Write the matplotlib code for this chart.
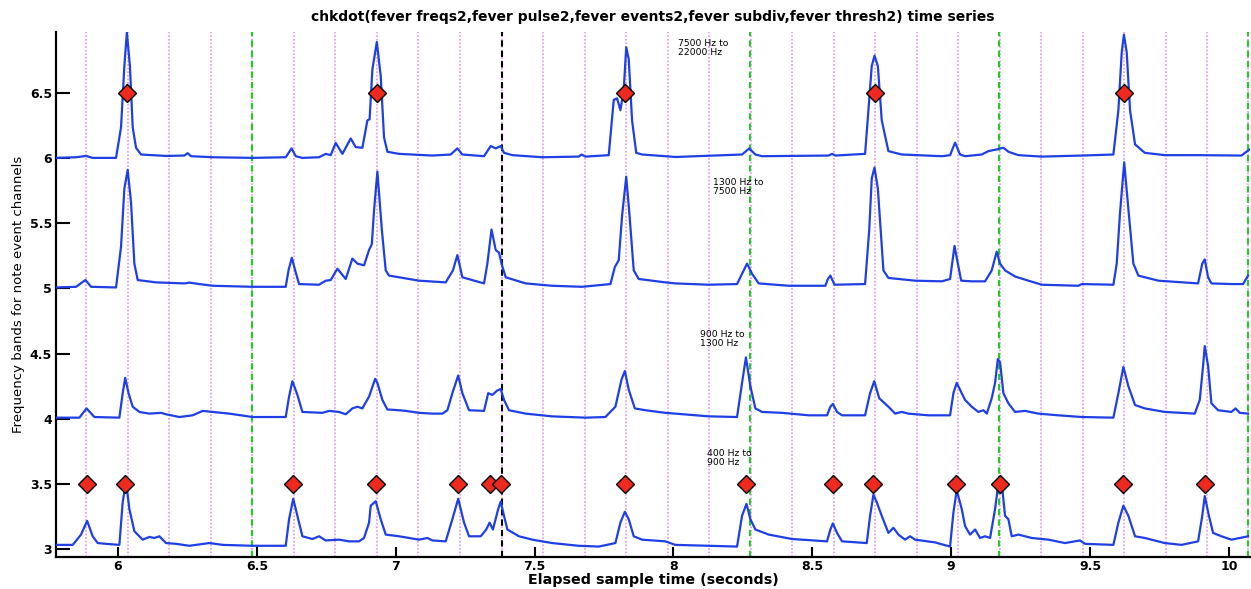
import matplotlib
matplotlib.use("Agg")
import matplotlib.pyplot as plt

# ---------------- data ----------------
title = "chkdot(fever freqs2,fever pulse2,fever events2,fever subdiv,fever thresh2) time series"
xlabel = "Elapsed sample time (seconds)"
ylabel = "Frequency bands for note event channels"

band_labels = ["7500 Hz to\n22000 Hz", "1300 Hz to\n7500 Hz", "900 Hz to\n1300 Hz", "400 Hz to\n900 Hz"]
band_label_t = [8.018, 8.143, 8.095, 8.120]
band_label_v = [6.919, 5.846, 4.681, 3.764]

x_ticks = [6, 6.5, 7, 7.5, 8, 8.5, 9, 9.5, 10]
x_ticklabels = ["6", "6.5", "7", "7.5", "8", "8.5", "9", "9.5", "10"]
y_ticks = [3, 3.5, 4, 4.5, 5, 5.5, 6, 6.5]
y_ticklabels = ["3", "3.5", "4", "4.5", "5", "5.5", "6", "6.5"]

beat_times = [5.885, 6.035, 6.184, 6.334, 6.484, 6.633, 6.783, 6.932, 7.082, 7.231,
              7.381, 7.530, 7.680, 7.829, 7.979, 8.128, 8.278, 8.427, 8.577, 8.726,
              8.876, 9.025, 9.175, 9.324, 9.474, 9.623, 9.773, 9.922, 10.069]
green_times = [6.484, 8.275, 9.173, 10.069]
black_times = [7.381]

top_event_t = [6.032, 6.932, 7.827, 8.724, 9.621]
top_event_v = 6.5
bot_event_t = [5.889, 6.026, 6.631, 6.928, 7.225, 7.338, 7.378, 7.825, 8.262,
               8.573, 8.720, 9.018, 9.176, 9.620, 9.913]
bot_event_v = 3.5

# channel 6: 7500-22000 Hz
ch6_t = [5.777, 5.849, 5.885, 5.909, 5.993, 6.011, 6.023, 6.032, 6.043, 6.053, 6.065, 6.083,
         6.173, 6.239, 6.251, 6.263, 6.341, 6.484, 6.604, 6.625, 6.640, 6.664, 6.724, 6.748,
         6.766, 6.784, 6.808, 6.838, 6.856, 6.880, 6.898, 6.906, 6.916, 6.932, 6.946, 6.958,
         6.970, 7.012, 7.132, 7.198, 7.222, 7.240, 7.318, 7.342, 7.360, 7.378, 7.390, 7.420,
         7.528, 7.659, 7.669, 7.683, 7.767, 7.785, 7.797, 7.809, 7.821, 7.830, 7.839, 7.851,
         7.866, 7.887, 7.971, 8.007, 8.247, 8.273, 8.295, 8.319, 8.559, 8.571, 8.583, 8.690,
         8.702, 8.714, 8.724, 8.736, 8.750, 8.774, 8.822, 8.966, 8.996, 9.014, 9.032, 9.050,
         9.110, 9.134, 9.164, 9.188, 9.206, 9.242, 9.326, 9.470, 9.584, 9.602, 9.614, 9.622,
         9.632, 9.644, 9.662, 9.697, 9.769, 9.889, 10.045, 10.063, 10.075]
ch6_v = [6.003, 6.008, 6.018, 6.003, 6.003, 6.238, 6.709, 6.966, 6.709, 6.238, 6.081, 6.029,
         6.018, 6.021, 6.039, 6.016, 6.008, 6.003, 6.008, 6.076, 6.016, 6.003, 6.008, 6.034,
         6.024, 6.118, 6.034, 6.152, 6.086, 6.081, 6.291, 6.300, 6.683, 6.893, 6.631, 6.160,
         6.050, 6.034, 6.021, 6.029, 6.076, 6.029, 6.016, 6.094, 6.076, 6.094, 6.042, 6.024,
         6.008, 6.013, 6.029, 6.013, 6.024, 6.448, 6.461, 6.369, 6.526, 6.853, 6.762, 6.291,
         6.042, 6.029, 6.016, 6.010, 6.029, 6.076, 6.029, 6.016, 6.021, 6.034, 6.021, 6.034,
         6.369, 6.709, 6.788, 6.709, 6.291, 6.055, 6.029, 6.016, 6.024, 6.120, 6.029, 6.016,
         6.029, 6.055, 6.068, 6.081, 6.050, 6.024, 6.013, 6.021, 6.029, 6.369, 6.814, 6.950,
         6.814, 6.369, 6.107, 6.042, 6.024, 6.024, 6.021, 6.050, 6.068]

# channel 5: 1300-7500 Hz
ch5_t = [5.777, 5.849, 5.883, 5.903, 5.993, 6.011, 6.023, 6.035, 6.047, 6.059, 6.071, 6.137,
         6.239, 6.257, 6.293, 6.341, 6.484, 6.604, 6.614, 6.626, 6.638, 6.652, 6.724, 6.748,
         6.766, 6.790, 6.820, 6.844, 6.862, 6.886, 6.904, 6.914, 6.922, 6.934, 6.950, 6.964,
         6.976, 7.012, 7.084, 7.180, 7.206, 7.222, 7.240, 7.318, 7.330, 7.345, 7.360, 7.372,
         7.381, 7.396, 7.468, 7.563, 7.671, 7.773, 7.789, 7.803, 7.815, 7.830, 7.842, 7.857,
         7.875, 7.971, 8.007, 8.127, 8.229, 8.247, 8.265, 8.283, 8.307, 8.415, 8.547, 8.556,
         8.565, 8.580, 8.690, 8.705, 8.714, 8.724, 8.736, 8.756, 8.774, 8.870, 8.966, 8.996,
         9.012, 9.024, 9.036, 9.074, 9.122, 9.146, 9.164, 9.176, 9.194, 9.230, 9.278, 9.326,
         9.458, 9.470, 9.584, 9.596, 9.608, 9.623, 9.638, 9.656, 9.674, 9.746, 9.889, 9.904,
         9.913, 9.925, 9.937, 10.009, 10.051, 10.069]
ch5_v = [5.008, 5.013, 5.065, 5.013, 5.008, 5.322, 5.767, 5.911, 5.662, 5.191, 5.065, 5.047,
         5.039, 5.045, 5.034, 5.021, 5.013, 5.013, 5.139, 5.236, 5.139, 5.034, 5.029, 5.060,
         5.065, 5.152, 5.073, 5.230, 5.191, 5.178, 5.296, 5.340, 5.600, 5.898, 5.453, 5.139,
         5.099, 5.086, 5.060, 5.047, 5.139, 5.257, 5.086, 5.039, 5.191, 5.453, 5.296, 5.275,
         5.191, 5.086, 5.039, 5.021, 5.013, 5.034, 5.165, 5.217, 5.558, 5.859, 5.558, 5.139,
         5.073, 5.047, 5.039, 5.029, 5.034, 5.113, 5.191, 5.113, 5.039, 5.021, 5.021, 5.073,
         5.099, 5.029, 5.034, 5.453, 5.846, 5.929, 5.767, 5.139, 5.081, 5.060, 5.055, 5.073,
         5.327, 5.191, 5.060, 5.055, 5.055, 5.139, 5.283, 5.191, 5.139, 5.092, 5.060, 5.029,
         5.021, 5.034, 5.029, 5.191, 5.584, 5.969, 5.610, 5.191, 5.099, 5.060, 5.039, 5.191,
         5.223, 5.086, 5.039, 5.034, 5.034, 5.099]

# channel 4: 900-1300 Hz
ch4_t = [5.777, 5.861, 5.887, 5.915, 6.005, 6.017, 6.026, 6.038, 6.053, 6.077, 6.113, 6.155,
         6.173, 6.221, 6.269, 6.305, 6.341, 6.401, 6.484, 6.604, 6.616, 6.628, 6.646, 6.664,
         6.736, 6.760, 6.796, 6.820, 6.844, 6.862, 6.880, 6.904, 6.926, 6.934, 6.952, 6.970,
         7.012, 7.036, 7.084, 7.132, 7.168, 7.186, 7.204, 7.225, 7.240, 7.264, 7.318, 7.333,
         7.348, 7.366, 7.378, 7.390, 7.408, 7.468, 7.563, 7.683, 7.755, 7.791, 7.813, 7.825,
         7.839, 7.861, 7.899, 7.971, 8.007, 8.127, 8.229, 8.247, 8.261, 8.277, 8.295, 8.319,
         8.391, 8.487, 8.553, 8.565, 8.574, 8.589, 8.607, 8.690, 8.708, 8.723, 8.741, 8.774,
         8.798, 8.822, 8.846, 8.918, 8.996, 9.008, 9.020, 9.038, 9.050, 9.074, 9.098, 9.116,
         9.128, 9.146, 9.158, 9.168, 9.176, 9.188, 9.206, 9.230, 9.266, 9.314, 9.386, 9.470,
         9.584, 9.602, 9.620, 9.638, 9.662, 9.697, 9.769, 9.877, 9.895, 9.907, 9.913, 9.925,
         9.937, 9.961, 10.009, 10.024, 10.039, 10.069]
ch4_v = [4.008, 4.008, 4.079, 4.013, 4.008, 4.196, 4.314, 4.196, 4.092, 4.052, 4.039, 4.045,
         4.034, 4.013, 4.026, 4.060, 4.052, 4.039, 4.013, 4.013, 4.170, 4.288, 4.183, 4.052,
         4.045, 4.060, 4.052, 4.034, 4.079, 4.092, 4.079, 4.170, 4.306, 4.275, 4.144, 4.071,
         4.065, 4.060, 4.045, 4.039, 4.039, 4.065, 4.196, 4.332, 4.196, 4.065, 4.060, 4.196,
         4.183, 4.217, 4.228, 4.144, 4.065, 4.039, 4.018, 4.008, 4.013, 4.092, 4.301, 4.366,
         4.223, 4.079, 4.065, 4.045, 4.039, 4.018, 4.013, 4.275, 4.471, 4.249, 4.079, 4.052,
         4.045, 4.026, 4.026, 4.092, 4.113, 4.052, 4.026, 4.026, 4.196, 4.288, 4.157, 4.092,
         4.039, 4.052, 4.039, 4.026, 4.026, 4.196, 4.275, 4.196, 4.144, 4.092, 4.052, 4.065,
         4.039, 4.157, 4.275, 4.458, 4.432, 4.196, 4.118, 4.052, 4.060, 4.039, 4.026, 4.013,
         4.008, 4.196, 4.398, 4.249, 4.105, 4.079, 4.052, 4.039, 4.144, 4.406, 4.558, 4.406,
         4.118, 4.065, 4.052, 4.079, 4.045, 4.039]

# channel 3: 400-900 Hz
ch3_t = [5.777, 5.837, 5.867, 5.889, 5.909, 5.927, 5.957, 6.005, 6.017, 6.029, 6.041, 6.059,
         6.089, 6.113, 6.131, 6.149, 6.173, 6.209, 6.257, 6.329, 6.377, 6.484, 6.604, 6.616,
         6.631, 6.646, 6.664, 6.700, 6.724, 6.748, 6.796, 6.832, 6.868, 6.886, 6.904, 6.910,
         6.928, 6.946, 6.964, 7.012, 7.048, 7.084, 7.114, 7.132, 7.180, 7.204, 7.225, 7.246,
         7.264, 7.306, 7.326, 7.338, 7.350, 7.369, 7.378, 7.390, 7.402, 7.444, 7.492, 7.563,
         7.659, 7.731, 7.791, 7.809, 7.825, 7.839, 7.857, 7.887, 7.971, 8.007, 8.127, 8.229,
         8.247, 8.263, 8.277, 8.295, 8.343, 8.427, 8.553, 8.565, 8.574, 8.589, 8.607, 8.696,
         8.708, 8.720, 8.732, 8.750, 8.774, 8.792, 8.810, 8.834, 8.852, 8.870, 8.942, 8.996,
         9.008, 9.020, 9.038, 9.050, 9.068, 9.086, 9.104, 9.122, 9.140, 9.158, 9.173, 9.184,
         9.194, 9.206, 9.218, 9.242, 9.290, 9.350, 9.410, 9.464, 9.482, 9.584, 9.602, 9.620,
         9.638, 9.662, 9.697, 9.769, 9.829, 9.889, 9.904, 9.913, 9.928, 9.943, 9.973, 10.009,
         10.069]
ch3_v = [3.031, 3.031, 3.110, 3.215, 3.097, 3.045, 3.039, 3.031, 3.359, 3.516, 3.306, 3.136,
         3.071, 3.092, 3.084, 3.097, 3.045, 3.039, 3.024, 3.045, 3.031, 3.024, 3.024, 3.228,
         3.385, 3.254, 3.097, 3.076, 3.097, 3.065, 3.071, 3.058, 3.058, 3.084, 3.202, 3.332,
         3.366, 3.228, 3.110, 3.097, 3.084, 3.071, 3.084, 3.065, 3.058, 3.228, 3.385, 3.202,
         3.097, 3.097, 3.149, 3.202, 3.149, 3.306, 3.364, 3.254, 3.149, 3.097, 3.071, 3.045,
         3.024, 3.018, 3.045, 3.202, 3.285, 3.228, 3.097, 3.071, 3.058, 3.031, 3.024, 3.018,
         3.254, 3.346, 3.228, 3.149, 3.110, 3.076, 3.058, 3.149, 3.196, 3.123, 3.058, 3.045,
         3.254, 3.416, 3.359, 3.254, 3.123, 3.162, 3.110, 3.071, 3.097, 3.071, 3.050, 3.018,
         3.280, 3.450, 3.306, 3.175, 3.110, 3.149, 3.084, 3.097, 3.084, 3.306, 3.555, 3.463,
         3.254, 3.228, 3.097, 3.110, 3.084, 3.071, 3.045, 3.065, 3.039, 3.031, 3.202, 3.332,
         3.254, 3.097, 3.084, 3.045, 3.031, 3.058, 3.254, 3.406, 3.254, 3.123, 3.097, 3.071,
         3.097]

# ---------------- plot ----------------
line_color = "#1f3fe6"
fig = plt.figure(figsize=(12.51, 5.89), dpi=100)
ax = fig.add_axes([0.0448, 0.0548, 0.9542, 0.8909])

for bt in beat_times:
    ax.axvline(bt, color="#e2a4ee", lw=1.3, ls=(0, (1, 1)), zorder=1)
for gt in green_times:
    ax.axvline(gt, color="#22cc22", lw=1.5, ls=(0, (3, 2)), zorder=2)
for kt in black_times:
    ax.axvline(kt, color="black", lw=1.5, ls=(0, (3, 2)), zorder=2)

for t, v in [(ch6_t, ch6_v), (ch5_t, ch5_v), (ch4_t, ch4_v), (ch3_t, ch3_v)]:
    ax.plot(t, v, color=line_color, lw=1.6, zorder=3, solid_joinstyle="round")

ax.plot(top_event_t, [top_event_v] * len(top_event_t), ls="none", marker="D",
        ms=9.2, mfc="#ee2a1e", mec="black", mew=1.0, zorder=4)
ax.plot(bot_event_t, [bot_event_v] * len(bot_event_t), ls="none", marker="D",
        ms=9.2, mfc="#ee2a1e", mec="black", mew=1.0, zorder=4)

for lab, lt, lv in zip(band_labels, band_label_t, band_label_v):
    ax.text(lt, lv, lab, fontsize=6.7, va="top", ha="left", linespacing=1.0,
            color="black", zorder=5)

ax.set_xlim(5.777, 10.075)
ax.set_ylim(2.94, 6.97)
ax.set_xticks(x_ticks)
ax.set_xticklabels(x_ticklabels, fontweight="bold", fontsize=9)
ax.set_yticks(y_ticks)
ax.set_yticklabels(y_ticklabels, fontweight="bold", fontsize=9)
ax.tick_params(axis="y", direction="in", length=10, width=1.5, pad=3)
ax.tick_params(axis="x", direction="in", length=7, width=1.5, pad=2)
for s in ["top", "right"]:
    ax.spines[s].set_visible(False)
for s in ["left", "bottom"]:
    ax.spines[s].set_linewidth(1.6)

ax.set_title(title, fontweight="bold", fontsize=10, pad=8)
ax.set_xlabel(xlabel, fontweight="bold", fontsize=10.3, labelpad=0)
ax.set_ylabel(ylabel, fontsize=9.5, labelpad=3)

fig.savefig("out.png", dpi=100)
